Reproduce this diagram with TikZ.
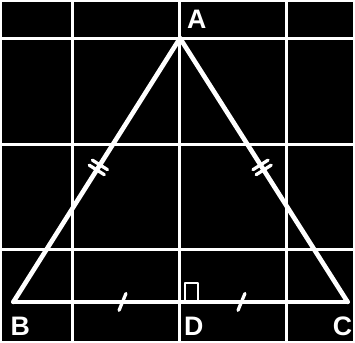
\documentclass[tikz,border=0pt]{standalone}
\usepackage{fontspec}
\setmainfont{Liberation Sans}
\usetikzlibrary{calc}

\begin{document}
\begin{tikzpicture}[x=0.03cm,y=0.03cm,line join=round,line cap=round,
  grid/.style={white,line width=2.6pt},
  side/.style={white,line width=4pt},
  tickln/.style={white,line width=2.8pt},
  lbl/.style={text=white,inner sep=0pt,font=\fontsize{23}{23}\selectfont\bfseries},
  dbltick/.pic={\draw[tickln] (-3,-9) -- (-3,9) (3,-9) -- (3,9);},
  sgltick/.pic={\draw[tickln] (-3.5,-8.5) -- (3.5,8.5);}]
  \fill[black] (0,0) rectangle (355,342);

  % ===== grid =====
  \foreach \x in {72,180,287}{
    \draw[grid] (\x,0) -- (\x,342);
  }
  \foreach \y in {92,198,305}{
    \draw[grid] (0,\y) -- (355,\y);
  }

  % ===== triangle =====
  \coordinate (A) at (180,305);
  \coordinate (B) at (12,39);
  \coordinate (C) at (349,39);
  \coordinate (D) at (180,39);
  \draw[side] (A) -- pic[pos=0.49,sloped]{dbltick} (B);
  \draw[side] (A) -- pic[pos=0.49,sloped]{dbltick} (C);
  \draw[side] (B) -- pic[pos=0.655,sloped]{sgltick} (D);
  \draw[side] (D) -- pic[pos=0.367,sloped]{sgltick} (C);
  \draw[grid] (A) -- (D);
  % right angle at D
  \draw[white,line width=1.6pt,line cap=butt] ($(D)+(5,1)$) -- ($(D)+(5,19)$) -- ($(D)+(18,19)$) -- ($(D)+(18,1)$);

  % ===== labels =====
  \node[lbl] (lA) at (197,324) {A};
  \node[lbl] (lB) at (19,14) {B};
  \node[lbl] (lD) at (194,14) {D};
  \node[lbl] (lC) at (344,14) {C};
\end{tikzpicture}
\end{document}
